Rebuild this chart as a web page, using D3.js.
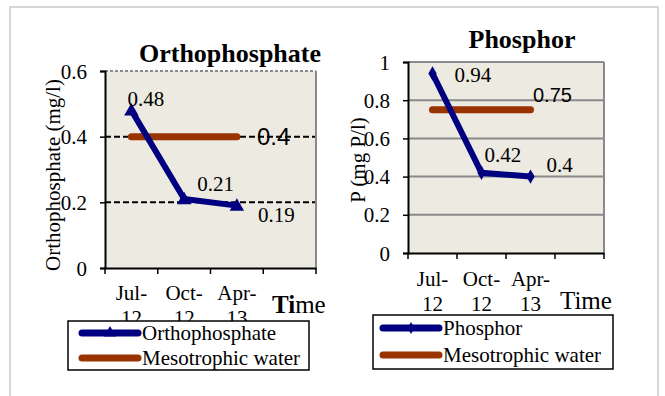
<!DOCTYPE html>
<html><head><meta charset="utf-8">
<script src="https://cdn.jsdelivr.net/npm/d3@7"></script>
<style>
html,body{margin:0;padding:0;background:#fff;}
svg{display:block;}
</style></head>
<body>
<svg id="c" width="665" height="396"></svg>
<script>
// ---- data ----
const categories = ["Jul-12", "Oct-12", "Apr-13", ""];
const orthoValues = [0.48, 0.21, 0.19];
const orthoLimit = 0.4;
const orthoTicks = [0, 0.2, 0.4, 0.6];
const phosValues = [0.94, 0.42, 0.4];
const phosLimit = 0.75;
const phosTicks = [0, 0.2, 0.4, 0.6, 0.8, 1];
const orthoLabels = ["0.48", "0.21", "0.19"];
const phosLabels = ["0.94", "0.42", "0.4"];

const NAVY = "#000080", BROWN = "#993300", PLOT = "#ECEAE1";
const SERIF = "'Liberation Serif', 'Times New Roman', Times, serif";
const SANS = "'Liberation Sans', Arial, Helvetica, sans-serif";
const svg = d3.select("#c");

svg.append("rect").attr("x", 10).attr("y", 7).attr("width", 648).attr("height", 400)
  .attr("fill", "#fff").attr("stroke", "#d6d6d6").attr("stroke-width", 2);

function txt(sel, size, fam) {
  return sel.style("font-family", fam || SERIF).style("font-size", size + "px").attr("fill", "#000");
}

function drawChart(o) {
  const g = svg.append("g");
  const x = d3.scaleBand().domain(categories.map((c, i) => i)).range([o.left, o.right]).paddingInner(0).paddingOuter(0);
  const y = d3.scaleLinear().domain([0, o.max]).range([o.bottom, o.top]);
  const cx = i => x(i) + x.bandwidth() / 2;

  g.append("rect").attr("x", o.left).attr("y", o.top).attr("width", o.right - o.left)
    .attr("height", o.bottom - o.top).attr("fill", PLOT);

  // gridlines
  o.grid.forEach(v => {
    g.append("line").attr("x1", o.left).attr("x2", o.right).attr("y1", y(v)).attr("y2", y(v))
      .attr("stroke", o.gridColor).attr("stroke-width", 2)
      .attr("stroke-dasharray", o.gridDash || null);
  });
  // top & right border
  g.append("line").attr("x1", o.left).attr("x2", o.right).attr("y1", o.top).attr("y2", o.top)
    .attr("stroke", "#8a8a8a").attr("stroke-width", 2).attr("stroke-dasharray", o.topDash || null);
  g.append("line").attr("x1", o.right).attr("x2", o.right).attr("y1", o.top).attr("y2", o.bottom)
    .attr("stroke", "#8a8a8a").attr("stroke-width", 2);

  // y axis
  const ya = d3.axisLeft(y).tickValues(o.ticks).tickSize(5).tickPadding(13)
    .tickFormat(d => d3.format("")(+d.toFixed(1)));
  const yg = g.append("g").attr("transform", `translate(${o.left},0)`).call(ya);
  yg.select(".domain").attr("stroke", "#000").attr("stroke-width", 2);
  yg.selectAll(".tick line").attr("stroke", "#000").attr("stroke-width", 1.5);
  txt(yg.selectAll(".tick text"), 21).attr("dy", "0.34em");

  // x axis
  const xa = d3.axisBottom(x).tickSize(0).tickFormat("");
  const xg = g.append("g").attr("transform", `translate(0,${o.bottom})`).call(xa);
  xg.select(".domain").attr("stroke", "#000").attr("stroke-width", 2);
  const edges = categories.map((c, i) => x(i)).concat([o.right]);
  edges.forEach(e => g.append("line").attr("x1", e).attr("x2", e).attr("y1", o.bottom).attr("y2", o.bottom + 6)
    .attr("stroke", "#000").attr("stroke-width", 1.5));
  categories.forEach((c, i) => {
    if (!c) return;
    const parts = c.split("-");
    const t = txt(g.append("text").attr("x", cx(i)).attr("text-anchor", "middle"), 21);
    t.append("tspan").attr("x", cx(i)).attr("y", o.xLab1).text(parts[0] + "-");
    t.append("tspan").attr("x", cx(i)).attr("y", o.xLab1 + o.xLabGap).text(parts[1]);
  });

  // time label
  const tt = txt(g.append("text").attr("x", o.timeX).attr("y", o.timeY), 25);
  if (o.timeBold) {
    tt.append("tspan").style("font-weight", "bold").text("Ti");
    tt.append("tspan").text("me");
  } else tt.text("Time");

  // title
  txt(g.append("text").attr("x", o.titleX).attr("y", o.titleY).attr("text-anchor", "middle"), 26)
    .style("font-weight", "bold").text(o.title);

  // y title
  txt(g.append("text").attr("transform", `translate(${o.yTitleX},${o.yTitleY}) rotate(-90)`)
    .attr("text-anchor", "middle"), 21).text(o.yTitle);

  // limit line
  g.append("line").attr("x1", cx(0)).attr("x2", cx(2)).attr("y1", y(o.limit)).attr("y2", y(o.limit))
    .attr("stroke", BROWN).attr("stroke-width", 7).attr("stroke-linecap", "round");

  // series
  const line = d3.line().x((d, i) => cx(i)).y(d => y(d));
  g.append("path").attr("d", line(o.values)).attr("fill", "none").attr("stroke", NAVY)
    .attr("stroke-width", 6).attr("stroke-linejoin", "miter");
  const sym = d3.symbol().type(o.marker).size(o.markerSize);
  o.values.forEach((v, i) => {
    g.append("path").attr("d", sym()).attr("transform", `translate(${cx(i)},${y(v) + (o.marker === d3.symbolTriangle ? 1 : 0)})`)
      .attr("fill", NAVY);
  });

  // data labels
  o.values.forEach((v, i) => {
    txt(g.append("text").attr("x", cx(i) + o.labOff[i][0]).attr("y", y(v) + o.labOff[i][1]), 21)
      .text(o.labels[i]);
  });
  // limit label
  txt(g.append("text").attr("x", o.limLab[0]).attr("y", y(o.limit) + o.limLab[1]), o.limLabSize, SANS)
    .text(String(o.limit));

  // legend
  const L = o.legend;
  g.append("rect").attr("x", L.x).attr("y", L.y).attr("width", L.w).attr("height", L.h)
    .attr("fill", "#fff").attr("stroke", "#000").attr("stroke-width", 1.5);
  const entries = [[o.seriesName, NAVY, true], ["Mesotrophic water", BROWN, false]];
  entries.forEach((e, k) => {
    const ly = L.y + L.row0 + k * L.rowGap;
    g.append("line").attr("x1", L.x + L.lx1).attr("x2", L.x + L.lx2).attr("y1", ly).attr("y2", ly)
      .attr("stroke", e[1]).attr("stroke-width", 7).attr("stroke-linecap", "round");
    if (e[2]) g.append("path").attr("d", d3.symbol().type(o.marker).size(o.markerSize * 0.7)())
      .attr("transform", `translate(${L.x + (L.lx1 + L.lx2) / 2},${ly})`).attr("fill", e[1]);
    txt(g.append("text").attr("x", L.x + L.tx).attr("y", ly + 7), 21).text(e[0]);
  });
}

drawChart({
  left: 105, right: 316, top: 71, bottom: 268, max: 0.6, ticks: orthoTicks,
  grid: [0.2, 0.4], gridColor: "#000", gridDash: "6,3", topDash: "3,2",
  values: orthoValues, limit: orthoLimit, labels: orthoLabels,
  labOff: [[-4, -4], [13, -8], [21, 16]],
  limLab: [257, 8], limLabSize: 24,
  marker: d3.symbolTriangle, markerSize: 90,
  xLab1: 300, xLabGap: 25, timeX: 272, timeY: 313, timeBold: true,
  title: "Orthophosphate", titleX: 230, titleY: 62,
  yTitle: "Orthophosphate (mg/l)", yTitleX: 60, yTitleY: 175,
  seriesName: "Orthophosphate",
  legend: { x: 68, y: 321, w: 241, h: 49, row0: 12, rowGap: 25, lx1: 14, lx2: 70, tx: 74 }
});

drawChart({
  left: 408, right: 604, top: 62, bottom: 253, max: 1, ticks: phosTicks,
  grid: [0.2, 0.4, 0.6, 0.8], gridColor: "#8a8a8a", gridDash: null, topDash: null,
  values: phosValues, limit: phosLimit, labels: phosLabels,
  labOff: [[22, 9], [3, -11], [16, -5]],
  limLab: [533, -8], limLabSize: 20,
  marker: d3.symbolDiamond, markerSize: 60,
  xLab1: 286, xLabGap: 25, timeX: 560, timeY: 309, timeBold: false,
  title: "Phosphor", titleX: 522, titleY: 48,
  yTitle: "P (mg P/l)", yTitleX: 365, yTitleY: 160,
  seriesName: "Phosphor",
  legend: { x: 373, y: 315, w: 240, h: 54, row0: 13, rowGap: 27, lx1: 10, lx2: 66, tx: 70 }
});
</script>
</body></html>
